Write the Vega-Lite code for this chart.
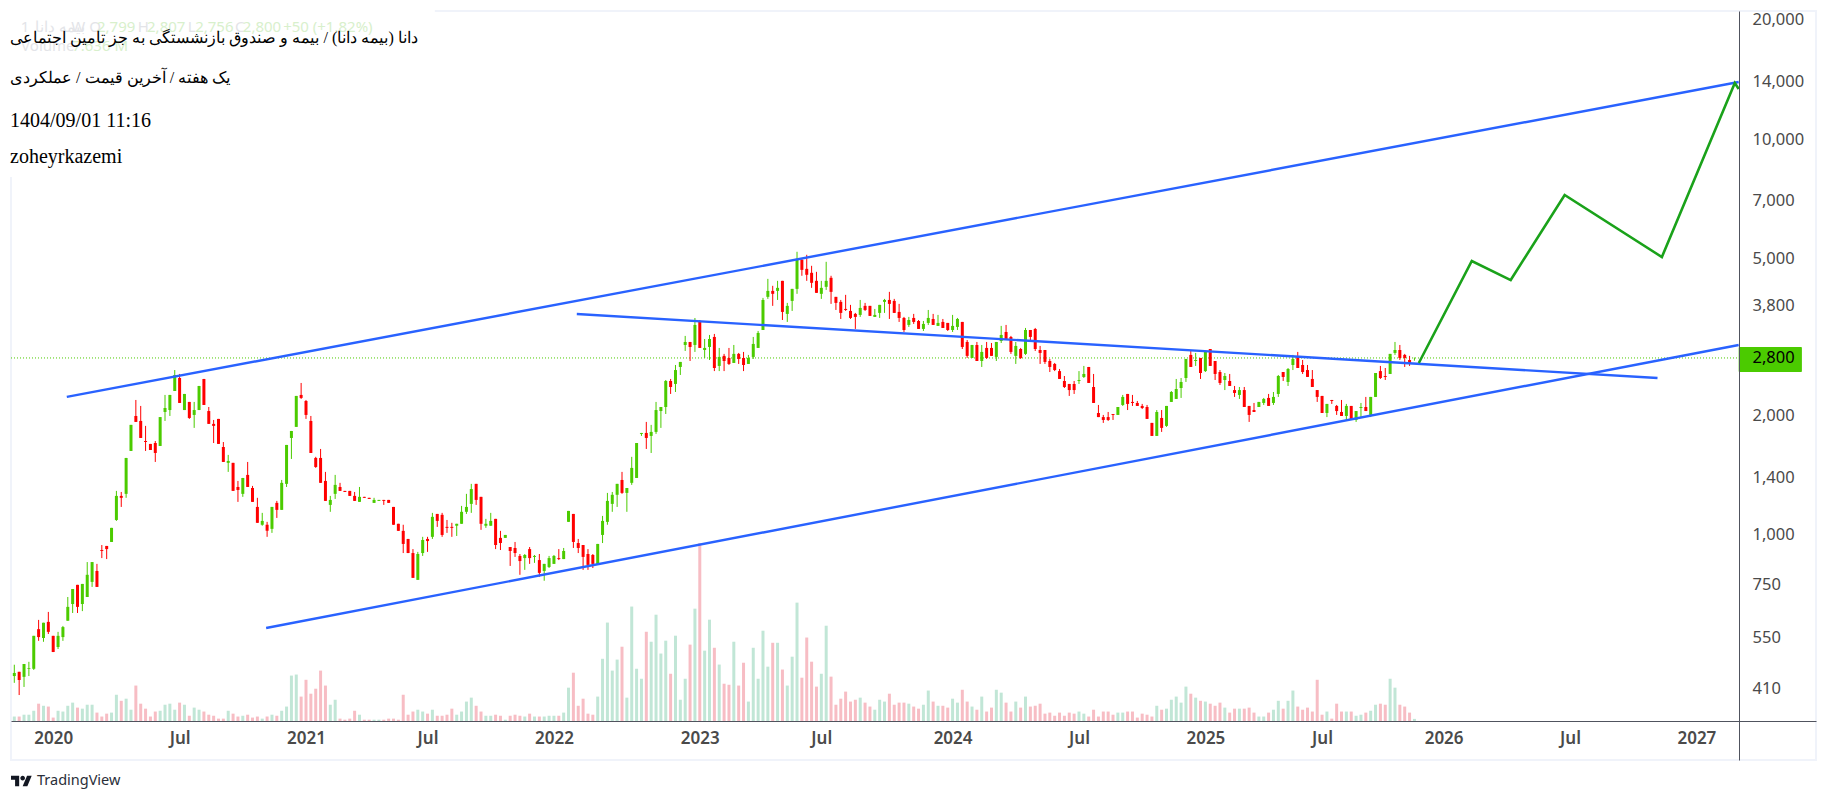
{
"$schema":"https://vega.github.io/schema/vega-lite/v6.json",
"width":1805,"height":749,"autosize":{"type":"none"},
"padding":{"left":11,"top":11,"right":10,"bottom":40},
"background":"white",
"config":{"view":{"stroke":"#f0f3fa","strokeWidth":2}},
"datasets":{
"bars":[
{"bar":0,"open":440,"high":470,"low":423,"close":448,"volume":17,"dir":"up"},
{"bar":1,"open":451,"high":451,"low":394,"close":430,"volume":17,"dir":"down"},
{"bar":2,"open":438,"high":472,"low":413,"close":472,"volume":24,"dir":"up"},
{"bar":3,"open":459,"high":478,"low":440,"close":461,"volume":24,"dir":"up"},
{"bar":4,"open":459,"high":556,"low":456,"close":556,"volume":39,"dir":"up"},
{"bar":5,"open":578,"high":610,"low":540,"close":552,"volume":66,"dir":"down"},
{"bar":6,"open":549,"high":600,"low":537,"close":600,"volume":58,"dir":"up"},
{"bar":7,"open":603,"high":639,"low":562,"close":569,"volume":55,"dir":"down"},
{"bar":8,"open":556,"high":556,"low":506,"close":506,"volume":13,"dir":"down"},
{"bar":9,"open":521,"high":569,"low":515,"close":556,"volume":39,"dir":"up"},
{"bar":10,"open":552,"high":589,"low":540,"close":585,"volume":36,"dir":"up"},
{"bar":11,"open":607,"high":697,"low":607,"close":658,"volume":58,"dir":"up"},
{"bar":12,"open":669,"high":730,"low":635,"close":730,"volume":70,"dir":"up"},
{"bar":13,"open":748,"high":748,"low":635,"close":658,"volume":51,"dir":"down"},
{"bar":14,"open":669,"high":752,"low":642,"close":752,"volume":47,"dir":"up"},
{"bar":15,"open":697,"high":854,"low":697,"close":793,"volume":62,"dir":"up"},
{"bar":16,"open":761,"high":854,"low":739,"close":854,"volume":62,"dir":"up"},
{"bar":17,"open":811,"high":845,"low":739,"close":739,"volume":32,"dir":"down"},
{"bar":18,"open":916,"high":943,"low":874,"close":911,"volume":17,"dir":"down"},
{"bar":19,"open":938,"high":938,"low":869,"close":921,"volume":28,"dir":"down"},
{"bar":20,"open":960,"high":1042,"low":960,"close":1042,"volume":32,"dir":"up"},
{"bar":21,"open":1091,"high":1292,"low":1085,"close":1255,"volume":100,"dir":"up"},
{"bar":22,"open":1255,"high":1284,"low":1177,"close":1241,"volume":77,"dir":"down"},
{"bar":23,"open":1270,"high":1565,"low":1241,"close":1565,"volume":85,"dir":"up"},
{"bar":24,"open":1630,"high":1897,"low":1630,"close":1897,"volume":43,"dir":"up"},
{"bar":25,"open":1998,"high":2193,"low":1930,"close":1930,"volume":135,"dir":"down"},
{"bar":26,"open":1941,"high":2118,"low":1758,"close":1758,"volume":66,"dir":"down"},
{"bar":27,"open":1727,"high":1886,"low":1630,"close":1717,"volume":47,"dir":"down"},
{"bar":28,"open":1698,"high":1698,"low":1639,"close":1639,"volume":17,"dir":"down"},
{"bar":29,"open":1707,"high":1727,"low":1529,"close":1611,"volume":36,"dir":"down"},
{"bar":30,"open":1678,"high":1985,"low":1678,"close":1985,"volume":39,"dir":"up"},
{"bar":31,"open":2045,"high":2258,"low":1941,"close":2093,"volume":62,"dir":"up"},
{"bar":32,"open":2068,"high":2258,"low":1998,"close":2258,"volume":66,"dir":"up"},
{"bar":33,"open":2310,"high":2610,"low":2310,"close":2536,"volume":43,"dir":"up"},
{"bar":34,"open":2492,"high":2551,"low":2155,"close":2155,"volume":70,"dir":"down"},
{"bar":35,"open":2068,"high":2271,"low":2068,"close":2271,"volume":62,"dir":"up"},
{"bar":36,"open":2168,"high":2168,"low":1964,"close":1975,"volume":20,"dir":"down"},
{"bar":37,"open":2010,"high":2168,"low":1864,"close":2068,"volume":51,"dir":"up"},
{"bar":38,"open":2068,"high":2379,"low":2068,"close":2379,"volume":43,"dir":"up"},
{"bar":39,"open":2478,"high":2478,"low":2130,"close":2130,"volume":36,"dir":"down"},
{"bar":40,"open":2056,"high":2105,"low":1908,"close":1908,"volume":24,"dir":"down"},
{"bar":41,"open":1908,"high":1952,"low":1707,"close":1886,"volume":20,"dir":"down"},
{"bar":42,"open":1964,"high":1964,"low":1698,"close":1698,"volume":9,"dir":"down"},
{"bar":43,"open":1668,"high":1717,"low":1529,"close":1529,"volume":9,"dir":"down"},
{"bar":44,"open":1521,"high":1593,"low":1443,"close":1538,"volume":39,"dir":"up"},
{"bar":45,"open":1521,"high":1521,"low":1292,"close":1292,"volume":28,"dir":"down"},
{"bar":46,"open":1322,"high":1369,"low":1212,"close":1299,"volume":17,"dir":"down"},
{"bar":47,"open":1270,"high":1393,"low":1248,"close":1393,"volume":20,"dir":"up"},
{"bar":48,"open":1418,"high":1529,"low":1322,"close":1322,"volume":24,"dir":"down"},
{"bar":49,"open":1314,"high":1330,"low":1212,"close":1212,"volume":13,"dir":"down"},
{"bar":50,"open":1177,"high":1241,"low":1073,"close":1073,"volume":17,"dir":"down"},
{"bar":51,"open":1061,"high":1137,"low":1055,"close":1085,"volume":9,"dir":"up"},
{"bar":52,"open":1061,"high":1079,"low":989,"close":1024,"volume":17,"dir":"down"},
{"bar":53,"open":1036,"high":1177,"low":1012,"close":1177,"volume":24,"dir":"up"},
{"bar":54,"open":1205,"high":1219,"low":1104,"close":1157,"volume":20,"dir":"down"},
{"bar":55,"open":1157,"high":1377,"low":1157,"close":1354,"volume":39,"dir":"up"},
{"bar":56,"open":1346,"high":1688,"low":1322,"close":1688,"volume":55,"dir":"up"},
{"bar":57,"open":1758,"high":1831,"low":1556,"close":1831,"volume":173,"dir":"up"},
{"bar":58,"open":1875,"high":2245,"low":1875,"close":2245,"volume":177,"dir":"up"},
{"bar":59,"open":2258,"high":2421,"low":2206,"close":2219,"volume":93,"dir":"down"},
{"bar":60,"open":2180,"high":2193,"low":1964,"close":2010,"volume":157,"dir":"down"},
{"bar":61,"open":1941,"high":1998,"low":1611,"close":1611,"volume":104,"dir":"down"},
{"bar":62,"open":1565,"high":1575,"low":1477,"close":1485,"volume":123,"dir":"down"},
{"bar":63,"open":1565,"high":1649,"low":1354,"close":1354,"volume":192,"dir":"down"},
{"bar":64,"open":1369,"high":1443,"low":1219,"close":1219,"volume":135,"dir":"down"},
{"bar":65,"open":1191,"high":1255,"low":1144,"close":1226,"volume":62,"dir":"up"},
{"bar":66,"open":1270,"high":1418,"low":1233,"close":1338,"volume":81,"dir":"up"},
{"bar":67,"open":1322,"high":1354,"low":1292,"close":1292,"volume":9,"dir":"down"},
{"bar":68,"open":1292,"high":1292,"low":1284,"close":1284,"volume":5,"dir":"down"},
{"bar":69,"open":1292,"high":1292,"low":1255,"close":1255,"volume":9,"dir":"down"},
{"bar":70,"open":1255,"high":1284,"low":1219,"close":1219,"volume":39,"dir":"down"},
{"bar":71,"open":1212,"high":1322,"low":1212,"close":1248,"volume":24,"dir":"up"},
{"bar":72,"open":1248,"high":1248,"low":1241,"close":1241,"volume":5,"dir":"down"},
{"bar":73,"open":1241,"high":1241,"low":1233,"close":1233,"volume":5,"dir":"down"},
{"bar":74,"open":1205,"high":1241,"low":1205,"close":1226,"volume":5,"dir":"up"},
{"bar":75,"open":1219,"high":1226,"low":1219,"close":1226,"volume":5,"dir":"up"},
{"bar":76,"open":1226,"high":1226,"low":1191,"close":1219,"volume":5,"dir":"down"},
{"bar":77,"open":1226,"high":1226,"low":1205,"close":1205,"volume":9,"dir":"down"},
{"bar":78,"open":1177,"high":1177,"low":1061,"close":1061,"volume":9,"dir":"down"},
{"bar":79,"open":1067,"high":1067,"low":1024,"close":1024,"volume":5,"dir":"down"},
{"bar":80,"open":1024,"high":1061,"low":900,"close":949,"volume":100,"dir":"down"},
{"bar":81,"open":977,"high":977,"low":900,"close":900,"volume":24,"dir":"down"},
{"bar":82,"open":900,"high":921,"low":779,"close":779,"volume":36,"dir":"down"},
{"bar":83,"open":770,"high":906,"low":770,"close":895,"volume":43,"dir":"up"},
{"bar":84,"open":900,"high":989,"low":885,"close":971,"volume":36,"dir":"up"},
{"bar":85,"open":977,"high":989,"low":906,"close":965,"volume":28,"dir":"down"},
{"bar":86,"open":989,"high":1137,"low":977,"close":1111,"volume":43,"dir":"up"},
{"bar":87,"open":1130,"high":1130,"low":1048,"close":1085,"volume":20,"dir":"down"},
{"bar":88,"open":1124,"high":1137,"low":989,"close":1000,"volume":20,"dir":"down"},
{"bar":89,"open":1048,"high":1091,"low":1012,"close":1042,"volume":24,"dir":"down"},
{"bar":90,"open":1048,"high":1073,"low":989,"close":1042,"volume":47,"dir":"down"},
{"bar":91,"open":1055,"high":1067,"low":994,"close":1067,"volume":24,"dir":"up"},
{"bar":92,"open":1067,"high":1184,"low":1067,"close":1144,"volume":36,"dir":"up"},
{"bar":93,"open":1144,"high":1270,"low":1130,"close":1177,"volume":74,"dir":"up"},
{"bar":94,"open":1198,"high":1346,"low":1137,"close":1306,"volume":89,"dir":"up"},
{"bar":95,"open":1346,"high":1346,"low":1191,"close":1226,"volume":58,"dir":"down"},
{"bar":96,"open":1248,"high":1248,"low":1030,"close":1067,"volume":36,"dir":"down"},
{"bar":97,"open":1055,"high":1098,"low":1042,"close":1067,"volume":20,"dir":"up"},
{"bar":98,"open":1055,"high":1137,"low":1055,"close":1085,"volume":20,"dir":"up"},
{"bar":99,"open":1098,"high":1098,"low":921,"close":943,"volume":24,"dir":"down"},
{"bar":100,"open":983,"high":1024,"low":916,"close":954,"volume":20,"dir":"down"},
{"bar":101,"open":983,"high":1000,"low":983,"close":1000,"volume":5,"dir":"up"},
{"bar":102,"open":932,"high":932,"low":835,"close":911,"volume":20,"dir":"down"},
{"bar":103,"open":927,"high":960,"low":880,"close":900,"volume":24,"dir":"down"},
{"bar":104,"open":885,"high":895,"low":793,"close":859,"volume":20,"dir":"down"},
{"bar":105,"open":874,"high":895,"low":816,"close":890,"volume":17,"dir":"up"},
{"bar":106,"open":921,"high":932,"low":845,"close":874,"volume":28,"dir":"down"},
{"bar":107,"open":880,"high":890,"low":850,"close":885,"volume":17,"dir":"up"},
{"bar":108,"open":864,"high":895,"low":784,"close":802,"volume":17,"dir":"down"},
{"bar":109,"open":811,"high":845,"low":766,"close":845,"volume":17,"dir":"up"},
{"bar":110,"open":830,"high":885,"low":825,"close":874,"volume":20,"dir":"up"},
{"bar":111,"open":845,"high":890,"low":845,"close":885,"volume":20,"dir":"up"},
{"bar":112,"open":874,"high":921,"low":864,"close":869,"volume":20,"dir":"down"},
{"bar":113,"open":869,"high":927,"low":869,"close":911,"volume":32,"dir":"up"},
{"bar":114,"open":1079,"high":1150,"low":1079,"close":1150,"volume":127,"dir":"up"},
{"bar":115,"open":1130,"high":1130,"low":927,"close":960,"volume":184,"dir":"down"},
{"bar":116,"open":954,"high":977,"low":900,"close":927,"volume":58,"dir":"down"},
{"bar":117,"open":943,"high":943,"low":816,"close":880,"volume":85,"dir":"down"},
{"bar":118,"open":895,"high":921,"low":816,"close":840,"volume":28,"dir":"down"},
{"bar":119,"open":890,"high":895,"low":825,"close":845,"volume":24,"dir":"down"},
{"bar":120,"open":840,"high":949,"low":840,"close":949,"volume":93,"dir":"up"},
{"bar":121,"open":1000,"high":1117,"low":954,"close":1085,"volume":237,"dir":"up"},
{"bar":122,"open":1079,"high":1277,"low":1061,"close":1219,"volume":375,"dir":"up"},
{"bar":123,"open":1198,"high":1284,"low":1144,"close":1263,"volume":192,"dir":"up"},
{"bar":124,"open":1263,"high":1346,"low":1177,"close":1346,"volume":234,"dir":"up"},
{"bar":125,"open":1377,"high":1443,"low":1270,"close":1277,"volume":283,"dir":"down"},
{"bar":126,"open":1277,"high":1314,"low":1144,"close":1314,"volume":89,"dir":"up"},
{"bar":127,"open":1354,"high":1575,"low":1338,"close":1477,"volume":436,"dir":"up"},
{"bar":128,"open":1393,"high":1707,"low":1393,"close":1707,"volume":199,"dir":"up"},
{"bar":129,"open":1800,"high":1810,"low":1779,"close":1810,"volume":161,"dir":"up"},
{"bar":130,"open":1810,"high":1930,"low":1649,"close":1758,"volume":340,"dir":"down"},
{"bar":131,"open":1779,"high":1897,"low":1611,"close":1821,"volume":302,"dir":"up"},
{"bar":132,"open":1821,"high":2168,"low":1800,"close":2068,"volume":405,"dir":"up"},
{"bar":133,"open":2056,"high":2105,"low":1864,"close":2105,"volume":257,"dir":"up"},
{"bar":134,"open":2105,"high":2463,"low":2021,"close":2449,"volume":306,"dir":"up"},
{"bar":135,"open":2449,"high":2478,"low":2271,"close":2365,"volume":180,"dir":"down"},
{"bar":136,"open":2407,"high":2688,"low":2297,"close":2610,"volume":325,"dir":"up"},
{"bar":137,"open":2657,"high":2736,"low":2536,"close":2736,"volume":81,"dir":"up"},
{"bar":138,"open":3020,"high":3183,"low":2916,"close":3073,"volume":161,"dir":"up"},
{"bar":139,"open":3073,"high":3073,"low":2751,"close":2985,"volume":291,"dir":"down"},
{"bar":140,"open":3020,"high":3533,"low":2900,"close":3393,"volume":428,"dir":"up"},
{"bar":141,"open":3472,"high":3492,"low":2968,"close":2968,"volume":678,"dir":"down"},
{"bar":142,"open":2933,"high":3127,"low":2800,"close":2968,"volume":268,"dir":"up"},
{"bar":143,"open":2985,"high":3201,"low":2767,"close":3127,"volume":386,"dir":"up"},
{"bar":144,"open":3164,"high":3220,"low":2594,"close":2641,"volume":279,"dir":"down"},
{"bar":145,"open":2673,"high":2968,"low":2594,"close":2817,"volume":215,"dir":"up"},
{"bar":146,"open":2834,"high":2867,"low":2594,"close":2751,"volume":142,"dir":"down"},
{"bar":147,"open":2800,"high":2968,"low":2688,"close":2704,"volume":138,"dir":"down"},
{"bar":148,"open":2720,"high":3020,"low":2720,"close":2867,"volume":302,"dir":"up"},
{"bar":149,"open":2867,"high":2883,"low":2704,"close":2784,"volume":135,"dir":"down"},
{"bar":150,"open":2800,"high":2900,"low":2594,"close":2688,"volume":222,"dir":"down"},
{"bar":151,"open":2704,"high":2850,"low":2704,"close":2800,"volume":74,"dir":"up"},
{"bar":152,"open":2817,"high":3164,"low":2784,"close":3038,"volume":279,"dir":"up"},
{"bar":153,"open":2968,"high":3276,"low":2968,"close":3239,"volume":161,"dir":"up"},
{"bar":154,"open":3295,"high":3971,"low":3295,"close":3924,"volume":344,"dir":"up"},
{"bar":155,"open":3995,"high":4436,"low":3948,"close":4136,"volume":207,"dir":"up"},
{"bar":156,"open":4136,"high":4260,"low":3791,"close":4066,"volume":298,"dir":"down"},
{"bar":157,"open":4136,"high":4385,"low":3924,"close":4210,"volume":298,"dir":"up"},
{"bar":158,"open":4385,"high":4385,"low":3492,"close":3660,"volume":196,"dir":"down"},
{"bar":159,"open":3618,"high":3857,"low":3453,"close":3791,"volume":135,"dir":"up"},
{"bar":160,"open":3902,"high":4185,"low":3681,"close":4185,"volume":245,"dir":"up"},
{"bar":161,"open":4185,"high":5193,"low":4066,"close":4985,"volume":451,"dir":"up"},
{"bar":162,"open":4955,"high":4985,"low":4516,"close":4674,"volume":165,"dir":"down"},
{"bar":163,"open":4702,"high":5103,"low":4385,"close":4542,"volume":318,"dir":"down"},
{"bar":164,"open":4595,"high":4786,"low":4210,"close":4335,"volume":226,"dir":"down"},
{"bar":165,"open":4385,"high":4621,"low":4089,"close":4089,"volume":131,"dir":"down"},
{"bar":166,"open":4066,"high":4385,"low":3948,"close":4210,"volume":180,"dir":"up"},
{"bar":167,"open":4235,"high":4899,"low":4160,"close":4385,"volume":363,"dir":"up"},
{"bar":168,"open":4463,"high":4516,"low":3835,"close":4113,"volume":169,"dir":"down"},
{"bar":169,"open":3995,"high":3995,"low":3702,"close":3857,"volume":62,"dir":"down"},
{"bar":170,"open":3880,"high":3924,"low":3513,"close":3639,"volume":85,"dir":"down"},
{"bar":171,"open":3724,"high":4042,"low":3681,"close":3702,"volume":112,"dir":"down"},
{"bar":172,"open":3681,"high":3813,"low":3513,"close":3534,"volume":74,"dir":"down"},
{"bar":173,"open":3618,"high":3639,"low":3315,"close":3555,"volume":81,"dir":"down"},
{"bar":174,"open":3597,"high":3924,"low":3555,"close":3746,"volume":89,"dir":"up"},
{"bar":175,"open":3791,"high":3857,"low":3681,"close":3702,"volume":70,"dir":"down"},
{"bar":176,"open":3791,"high":3791,"low":3576,"close":3576,"volume":55,"dir":"down"},
{"bar":177,"open":3555,"high":3724,"low":3555,"close":3597,"volume":43,"dir":"up"},
{"bar":178,"open":3639,"high":3813,"low":3534,"close":3813,"volume":81,"dir":"up"},
{"bar":179,"open":3880,"high":3948,"low":3639,"close":3924,"volume":74,"dir":"up"},
{"bar":180,"open":3924,"high":4113,"low":3513,"close":3835,"volume":104,"dir":"down"},
{"bar":181,"open":3902,"high":3948,"low":3639,"close":3639,"volume":62,"dir":"down"},
{"bar":182,"open":3660,"high":3835,"low":3453,"close":3534,"volume":70,"dir":"down"},
{"bar":183,"open":3534,"high":3555,"low":3257,"close":3295,"volume":70,"dir":"down"},
{"bar":184,"open":3393,"high":3555,"low":3354,"close":3492,"volume":66,"dir":"up"},
{"bar":185,"open":3534,"high":3618,"low":3413,"close":3453,"volume":55,"dir":"down"},
{"bar":186,"open":3472,"high":3492,"low":3315,"close":3315,"volume":47,"dir":"down"},
{"bar":187,"open":3315,"high":3472,"low":3276,"close":3413,"volume":62,"dir":"up"},
{"bar":188,"open":3433,"high":3702,"low":3393,"close":3534,"volume":116,"dir":"up"},
{"bar":189,"open":3513,"high":3618,"low":3393,"close":3393,"volume":74,"dir":"down"},
{"bar":190,"open":3374,"high":3597,"low":3374,"close":3433,"volume":58,"dir":"up"},
{"bar":191,"open":3453,"high":3513,"low":3334,"close":3334,"volume":58,"dir":"down"},
{"bar":192,"open":3433,"high":3433,"low":3276,"close":3295,"volume":51,"dir":"down"},
{"bar":193,"open":3295,"high":3597,"low":3257,"close":3374,"volume":85,"dir":"up"},
{"bar":194,"open":3354,"high":3534,"low":3295,"close":3513,"volume":70,"dir":"up"},
{"bar":195,"open":3453,"high":3453,"low":2950,"close":2985,"volume":119,"dir":"down"},
{"bar":196,"open":3073,"high":3108,"low":2800,"close":2834,"volume":74,"dir":"down"},
{"bar":197,"open":2800,"high":3020,"low":2800,"close":3020,"volume":55,"dir":"up"},
{"bar":198,"open":3020,"high":3073,"low":2751,"close":2751,"volume":43,"dir":"down"},
{"bar":199,"open":2751,"high":3020,"low":2657,"close":2900,"volume":93,"dir":"up"},
{"bar":200,"open":2968,"high":3073,"low":2784,"close":2800,"volume":36,"dir":"down"},
{"bar":201,"open":2968,"high":3055,"low":2834,"close":2834,"volume":51,"dir":"down"},
{"bar":202,"open":2817,"high":3073,"low":2751,"close":3073,"volume":119,"dir":"up"},
{"bar":203,"open":3090,"high":3374,"low":3055,"close":3201,"volume":108,"dir":"up"},
{"bar":204,"open":3257,"high":3393,"low":3108,"close":3108,"volume":70,"dir":"down"},
{"bar":205,"open":3164,"high":3183,"low":2867,"close":2900,"volume":36,"dir":"down"},
{"bar":206,"open":2834,"high":3073,"low":2704,"close":3003,"volume":74,"dir":"up"},
{"bar":207,"open":2950,"high":2968,"low":2784,"close":2800,"volume":51,"dir":"down"},
{"bar":208,"open":2867,"high":3334,"low":2850,"close":3295,"volume":93,"dir":"up"},
{"bar":209,"open":3295,"high":3295,"low":3090,"close":3164,"volume":55,"dir":"down"},
{"bar":210,"open":3315,"high":3334,"low":2916,"close":2950,"volume":58,"dir":"down"},
{"bar":211,"open":2933,"high":3003,"low":2704,"close":2883,"volume":66,"dir":"down"},
{"bar":212,"open":2933,"high":2933,"low":2704,"close":2736,"volume":28,"dir":"down"},
{"bar":213,"open":2751,"high":2784,"low":2580,"close":2657,"volume":32,"dir":"down"},
{"bar":214,"open":2704,"high":2720,"low":2594,"close":2610,"volume":20,"dir":"down"},
{"bar":215,"open":2594,"high":2626,"low":2478,"close":2478,"volume":32,"dir":"down"},
{"bar":216,"open":2449,"high":2521,"low":2351,"close":2365,"volume":20,"dir":"down"},
{"bar":217,"open":2407,"high":2407,"low":2245,"close":2323,"volume":32,"dir":"down"},
{"bar":218,"open":2407,"high":2449,"low":2271,"close":2323,"volume":28,"dir":"down"},
{"bar":219,"open":2449,"high":2594,"low":2407,"close":2463,"volume":36,"dir":"up"},
{"bar":220,"open":2507,"high":2673,"low":2492,"close":2551,"volume":28,"dir":"up"},
{"bar":221,"open":2657,"high":2657,"low":2421,"close":2421,"volume":17,"dir":"down"},
{"bar":222,"open":2365,"high":2551,"low":2155,"close":2155,"volume":43,"dir":"down"},
{"bar":223,"open":2033,"high":2130,"low":1985,"close":1985,"volume":17,"dir":"down"},
{"bar":224,"open":1985,"high":2010,"low":1919,"close":1952,"volume":36,"dir":"down"},
{"bar":225,"open":1985,"high":2045,"low":1941,"close":1952,"volume":36,"dir":"down"},
{"bar":226,"open":2021,"high":2021,"low":1952,"close":2010,"volume":24,"dir":"down"},
{"bar":227,"open":2010,"high":2105,"low":2010,"close":2105,"volume":32,"dir":"up"},
{"bar":228,"open":2130,"high":2258,"low":2118,"close":2232,"volume":32,"dir":"up"},
{"bar":229,"open":2271,"high":2271,"low":2068,"close":2143,"volume":36,"dir":"down"},
{"bar":230,"open":2168,"high":2258,"low":2118,"close":2155,"volume":36,"dir":"down"},
{"bar":231,"open":2155,"high":2180,"low":2118,"close":2118,"volume":13,"dir":"down"},
{"bar":232,"open":2118,"high":2143,"low":2080,"close":2093,"volume":28,"dir":"down"},
{"bar":233,"open":2105,"high":2130,"low":1964,"close":1964,"volume":24,"dir":"down"},
{"bar":234,"open":1919,"high":1919,"low":1779,"close":1779,"volume":17,"dir":"down"},
{"bar":235,"open":1779,"high":2068,"low":1779,"close":2045,"volume":58,"dir":"up"},
{"bar":236,"open":1975,"high":2068,"low":1821,"close":1864,"volume":43,"dir":"down"},
{"bar":237,"open":1886,"high":2118,"low":1875,"close":2118,"volume":47,"dir":"up"},
{"bar":238,"open":2168,"high":2310,"low":2168,"close":2297,"volume":81,"dir":"up"},
{"bar":239,"open":2206,"high":2478,"low":2206,"close":2337,"volume":93,"dir":"up"},
{"bar":240,"open":2351,"high":2492,"low":2219,"close":2435,"volume":70,"dir":"up"},
{"bar":241,"open":2492,"high":2784,"low":2435,"close":2784,"volume":131,"dir":"up"},
{"bar":242,"open":2850,"high":2933,"low":2657,"close":2657,"volume":104,"dir":"down"},
{"bar":243,"open":2751,"high":2883,"low":2673,"close":2767,"volume":89,"dir":"up"},
{"bar":244,"open":2800,"high":2800,"low":2478,"close":2565,"volume":77,"dir":"down"},
{"bar":245,"open":2594,"high":2900,"low":2580,"close":2900,"volume":74,"dir":"up"},
{"bar":246,"open":2950,"high":2950,"low":2673,"close":2673,"volume":66,"dir":"down"},
{"bar":247,"open":2751,"high":2751,"low":2463,"close":2551,"volume":58,"dir":"down"},
{"bar":248,"open":2580,"high":2610,"low":2393,"close":2421,"volume":70,"dir":"down"},
{"bar":249,"open":2463,"high":2565,"low":2323,"close":2521,"volume":51,"dir":"up"},
{"bar":250,"open":2449,"high":2551,"low":2379,"close":2379,"volume":32,"dir":"down"},
{"bar":251,"open":2323,"high":2379,"low":2232,"close":2284,"volume":47,"dir":"down"},
{"bar":252,"open":2258,"high":2365,"low":2206,"close":2323,"volume":47,"dir":"up"},
{"bar":253,"open":2323,"high":2365,"low":2105,"close":2105,"volume":47,"dir":"down"},
{"bar":254,"open":2118,"high":2118,"low":1930,"close":2010,"volume":51,"dir":"down"},
{"bar":255,"open":2068,"high":2155,"low":2045,"close":2045,"volume":32,"dir":"down"},
{"bar":256,"open":2105,"high":2168,"low":2105,"close":2168,"volume":17,"dir":"up"},
{"bar":257,"open":2155,"high":2219,"low":2130,"close":2206,"volume":17,"dir":"up"},
{"bar":258,"open":2219,"high":2271,"low":2118,"close":2118,"volume":32,"dir":"down"},
{"bar":259,"open":2155,"high":2297,"low":2130,"close":2232,"volume":43,"dir":"up"},
{"bar":260,"open":2271,"high":2536,"low":2232,"close":2521,"volume":77,"dir":"up"},
{"bar":261,"open":2580,"high":2580,"low":2449,"close":2507,"volume":47,"dir":"down"},
{"bar":262,"open":2435,"high":2641,"low":2379,"close":2626,"volume":77,"dir":"up"},
{"bar":263,"open":2688,"high":2850,"low":2610,"close":2784,"volume":116,"dir":"up"},
{"bar":264,"open":2817,"high":2900,"low":2641,"close":2641,"volume":55,"dir":"down"},
{"bar":265,"open":2688,"high":2767,"low":2551,"close":2580,"volume":43,"dir":"down"},
{"bar":266,"open":2610,"high":2688,"low":2507,"close":2507,"volume":51,"dir":"down"},
{"bar":267,"open":2478,"high":2610,"low":2365,"close":2365,"volume":36,"dir":"down"},
{"bar":268,"open":2323,"high":2323,"low":2168,"close":2232,"volume":157,"dir":"down"},
{"bar":269,"open":2245,"high":2245,"low":2033,"close":2033,"volume":24,"dir":"down"},
{"bar":270,"open":2033,"high":2143,"low":1985,"close":2143,"volume":36,"dir":"up"},
{"bar":271,"open":2193,"high":2193,"low":2143,"close":2180,"volume":9,"dir":"down"},
{"bar":272,"open":2118,"high":2130,"low":2010,"close":2056,"volume":66,"dir":"down"},
{"bar":273,"open":2045,"high":2193,"low":1998,"close":1998,"volume":36,"dir":"down"},
{"bar":274,"open":1998,"high":2143,"low":1952,"close":2118,"volume":36,"dir":"up"},
{"bar":275,"open":2118,"high":2118,"low":1952,"close":1952,"volume":36,"dir":"down"},
{"bar":276,"open":1952,"high":2056,"low":1930,"close":2056,"volume":20,"dir":"up"},
{"bar":277,"open":2093,"high":2155,"low":1985,"close":2105,"volume":24,"dir":"up"},
{"bar":278,"open":2105,"high":2232,"low":2056,"close":2056,"volume":32,"dir":"down"},
{"bar":279,"open":2010,"high":2232,"low":1985,"close":2232,"volume":39,"dir":"up"},
{"bar":280,"open":2232,"high":2565,"low":2232,"close":2565,"volume":62,"dir":"up"},
{"bar":281,"open":2594,"high":2673,"low":2478,"close":2492,"volume":66,"dir":"down"},
{"bar":282,"open":2521,"high":2641,"low":2463,"close":2507,"volume":62,"dir":"down"},
{"bar":283,"open":2551,"high":2867,"low":2551,"close":2867,"volume":161,"dir":"up"},
{"bar":284,"open":2883,"high":3073,"low":2850,"close":2933,"volume":127,"dir":"up"},
{"bar":285,"open":2933,"high":3020,"low":2767,"close":2800,"volume":62,"dir":"down"},
{"bar":286,"open":2850,"high":2867,"low":2657,"close":2800,"volume":55,"dir":"down"},
{"bar":287,"open":2767,"high":2834,"low":2673,"close":2720,"volume":32,"dir":"down"},
{"bar":288,"open":2799,"high":2807,"low":2756,"close":2800,"volume":8,"dir":"up"}
],
"trendlines":[
{"line":"upper","bar":10.8,"price":2232},{"line":"upper","bar":354.7,"price":13944},
{"line":"middle","bar":115.7,"price":3616},{"line":"middle","bar":338,"price":2492},
{"line":"lower","bar":51.8,"price":582},{"line":"lower","bar":354.7,"price":3020}
],
"forecast":[
{"bar":288.9,"price":2719},{"bar":299.8,"price":4922},{"bar":307.8,"price":4405},{"bar":318.9,"price":7226},{"bar":338.9,"price":5038},{"bar":353.9,"price":13864},{"bar":354.7,"price":13388}
]
},
"encoding":{"x":{"field":"bar","type":"quantitative","title":null,
  "scale":{"domain":[-0.68,370.6],"nice":false,"zero":false,"padding":0},
  "axis":{"values":[8,34,60,85,111,141,166,193,219,245,269,294,320,346],
    "labelExpr":"{'8':'2020','34':'Jul','60':'2021','85':'Jul','111':'2022','141':'2023','166':'Jul','193':'2024','219':'Jul','245':'2025','269':'Jul','294':'2026','320':'Jul','346':'2027'}[datum.value]",
    "offset":-39,"orient":"bottom","grid":false,"ticks":false,"domainColor":"#50535e","domainWidth":1,
    "labelFont":"Noto Sans","labelFontSize":17,"labelColor":"#4a4a4a","labelPadding":9,"labelOverlap":false,"labelFlush":false,"labelBound":false,
    "labelFontWeight":{"condition":{"test":"datum.label != 'Jul'","value":600},"value":400}}}},
"layer":[
{"data":{"name":"bars"},"mark":{"type":"bar","width":3,"orient":"vertical"},
 "encoding":{
  "y":{"field":"volume","type":"quantitative","stack":false,"title":null,"axis":null,"scale":{"domain":[-148.6,2705],"nice":false}},
  "y2":{"datum":0},
  "color":{"field":"dir","type":"nominal","legend":null,"scale":{"domain":["up","down"],"range":["#c1e6d6","#f7bdc4"]}}}},
{"layer":[
 {"data":{"values":[{"bar":-0.68,"bar2":354.7,"price":2800}]},
  "mark":{"type":"rule","color":"#4bcb00","strokeWidth":1,"strokeDash":[1,2]},
  "encoding":{"x2":{"field":"bar2"},
   "y":{"field":"price","type":"quantitative","title":null,"scale":{"type":"log","domain":[270,21075],"nice":false},
    "axis":{"orient":"right","offset":-77,"zindex":1,"values":[410,550,750,1000,1400,2000,2800,3800,5000,7000,10000,14000,20000],"format":",d","grid":false,"ticks":false,
     "domainColor":"#50535e","domainWidth":1,"labelFont":"Noto Sans","labelFontSize":16.5,"labelPadding":13,"labelOverlap":false,"labelFlush":false,"labelBound":false,
     "labelColor":{"condition":{"test":"datum.value == 2800","value":"#000000"},"value":"#4a4a4a"}}}}},
 {"data":{"name":"bars"},"mark":{"type":"rule","strokeWidth":1},
  "encoding":{
   "y":{"field":"high","type":"quantitative","scale":{"type":"log","domain":[270,21075],"nice":false}},
   "y2":{"field":"low"},
   "color":{"field":"dir","type":"nominal","legend":null,"scale":{"domain":["up","down"],"range":["#4bcb00","#ff0000"]}}}},
 {"data":{"name":"bars"},"mark":{"type":"bar","width":3,"orient":"vertical"},
  "encoding":{
   "y":{"field":"open","type":"quantitative","stack":false,"scale":{"type":"log","domain":[270,21075],"nice":false}},
   "y2":{"field":"close"},
   "color":{"field":"dir","type":"nominal","legend":null,"scale":{"domain":["up","down"],"range":["#4bcb00","#ff0000"]}}}},
 {"data":{"name":"trendlines"},"mark":{"type":"line","color":"#2962ff","strokeWidth":2.4},
  "encoding":{"y":{"field":"price","type":"quantitative","scale":{"type":"log","domain":[270,21075],"nice":false}},"detail":{"field":"line"}}},
 {"data":{"name":"forecast"},"mark":{"type":"line","color":"#1aa21a","strokeWidth":2.6},
  "encoding":{"y":{"field":"price","type":"quantitative","scale":{"type":"log","domain":[270,21075],"nice":false}}}},
 {"data":{"values":[{"bar":354.7,"bar2":367.7,"price":2984,"price2":2581}]},
  "mark":{"type":"rect","color":"#4bcb00","cornerRadius":1},
  "encoding":{"x2":{"field":"bar2"},"y":{"field":"price","type":"quantitative","scale":{"type":"log","domain":[270,21075],"nice":false}},"y2":{"field":"price2"}}},
 {"data":{"values":[{"bar":-1.09,"bar2":86.5,"price":21322,"price2":8024}]},
  "mark":{"type":"rect","color":"#ffffff"},
  "encoding":{"x2":{"field":"bar2"},"y":{"field":"price","type":"quantitative","scale":{"type":"log","domain":[270,21075],"nice":false}},"y2":{"field":"price2"}}},
 {"data":{"values":[
   {"bar":1.3,"price":19202,"label":"1"},{"bar":4.3,"price":19202,"label":"بیمه دانا"},{"bar":11.7,"price":19202,"label":"W"},
   {"bar":15.4,"price":19202,"label":"O"},{"bar":25.4,"price":19202,"label":"H"},{"bar":35.7,"price":19202,"label":"L"},{"bar":45.4,"price":19202,"label":"C"},
   {"bar":1.4,"price":17191,"label":"Volume"}]},
  "mark":{"type":"text","align":"left","baseline":"middle","font":"Noto Sans","fontSize":15,"color":"#e3e4e8"},
  "encoding":{"y":{"field":"price","type":"quantitative","scale":{"type":"log","domain":[270,21075],"nice":false}},"text":{"field":"label"}}},
 {"data":{"values":[
   {"bar":17,"price":19202,"label":"2,799"},{"bar":27.3,"price":19202,"label":"2,807"},{"bar":37.2,"price":19202,"label":"2,756"},{"bar":47,"price":19202,"label":"2,800"},{"bar":55.3,"price":19202,"label":"+50 (+1.82%)"},
   {"bar":11.9,"price":17191,"label":"7.636 M"}]},
  "mark":{"type":"text","align":"left","baseline":"middle","font":"Noto Sans","fontSize":15,"color":"#d8f0cc"},
  "encoding":{"y":{"field":"price","type":"quantitative","scale":{"type":"log","domain":[270,21075],"nice":false}},"text":{"field":"label"}}},
 {"data":{"values":[
   {"bar":-0.88,"price":18011,"label":"دانا (بیمه دانا) / بیمه و صندوق بازنشستگی به جز تامین اجتماعی"},
   {"bar":-0.88,"price":14272,"label":"یک هفته / آخرین قیمت / عملکردی"}]},
  "mark":{"type":"text","align":"left","baseline":"middle","font":"Liberation Serif","fontSize":16.2,"color":"#000000"},
  "encoding":{"y":{"field":"price","type":"quantitative","scale":{"type":"log","domain":[270,21075],"nice":false}},"text":{"field":"label"}}},
 {"data":{"values":[
   {"bar":-0.88,"price":11115,"label":"1404/09/01 11:16"},
   {"bar":-0.88,"price":9014,"label":"zoheyrkazemi"}]},
  "mark":{"type":"text","align":"left","baseline":"middle","font":"Liberation Serif","fontSize":20,"color":"#000000"},
  "encoding":{"y":{"field":"price","type":"quantitative","scale":{"type":"log","domain":[270,21075],"nice":false}},"text":{"field":"label"}}},
 {"data":{"values":[{"bar":1.48,"price":239}]},
  "mark":{"type":"point","filled":true,"opacity":1,"size":441,"color":"#131722","strokeWidth":0,
   "shape":"M-.222,.5L-.611,.5L-.611,-.111L-1,-.111L-1,-.5L-.222,-.5ZM.556,.5L.111,.5L.528,-.5L.972,-.5ZM-.111,-.278a.222,.222 0 1,0 .444,0a.222,.222 0 1,0 -.444,0Z"},
  "encoding":{"y":{"field":"price","type":"quantitative","scale":{"type":"log","domain":[270,21075],"nice":false}}}},
 {"data":{"values":[{"bar":4.66,"price":239,"label":"TradingView"}]},
  "mark":{"type":"text","align":"left","baseline":"middle","font":"Noto Sans","fontSize":14.5,"color":"#2a2e39"},
  "encoding":{"y":{"field":"price","type":"quantitative","scale":{"type":"log","domain":[270,21075],"nice":false}},"text":{"field":"label"}}}
]}
],
"resolve":{"scale":{"y":"independent","color":"independent"},"axis":{"y":"independent"}}
}
